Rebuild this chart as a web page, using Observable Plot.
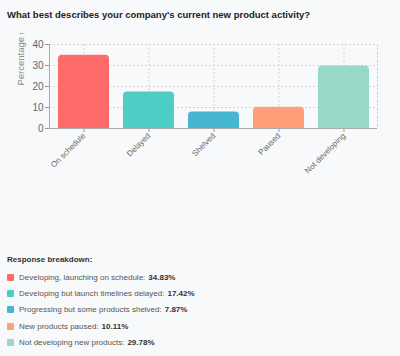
<!DOCTYPE html>
<html><head><meta charset="utf-8">
<script src="https://cdn.jsdelivr.net/npm/d3@7"></script>
<script src="https://cdn.jsdelivr.net/npm/@observablehq/plot@0.6"></script>
<style>
body{margin:0;background:#f8f9fa;font-family:"Liberation Sans",Arial,sans-serif;width:400px;height:356px;position:relative;overflow:hidden}
#title{position:absolute;left:7px;top:9px;font-size:9.5px;font-weight:bold;color:#222;white-space:nowrap}
#chart{position:absolute;left:0;top:33px}
#legend{position:absolute;left:7px;top:254px;font-size:8px;color:#555}
#legend .hdr{font-weight:bold;color:#333;height:12px;line-height:12px;margin-bottom:3px}
#legend .item{display:flex;align-items:center;height:16.4px}
#legend .sw{width:7px;height:7px;border-radius:1px;margin-right:5px}
#legend b{color:#333;margin-left:3px}
</style></head>
<body>
<div id="title">What best describes your company's current new product activity?</div>
<div id="chart"></div>
<div id="legend"></div>
<script>
const categories = ["On schedule","Delayed","Shelved","Paused","Not developing"];
const values = [34.83,17.42,7.87,10.11,29.78];
const descriptions = ["Developing, launching on schedule","Developing but launch timelines delayed","Progressing but some products shelved","New products paused","Not developing new products"];
const colors = ["#ff6b6b","#4ecdc4","#45b7d1","#ffa07a","#98d8c8"];
const yTicks = [0,10,20,30,40];
const yLabel = "Percentage (%)";

const data = categories.map((c,i)=>({category:c, value:values[i]}));

const chart = Plot.plot({
  width: 400, height: 200,
  marginTop: 11, marginLeft: 49, marginRight: 23, marginBottom: 105,
  style:{background:"transparent", fontFamily:"'Liberation Sans',Arial,sans-serif", fontSize:"9px", color:"#666", overflow:"hidden"},
  x:{domain:categories, paddingInner:0.22, paddingOuter:0.11, label:null},
  y:{domain:[0,40], label:null},
  color:{domain:categories, range:colors},
  marks:[
    Plot.gridY(yTicks, {stroke:"#d6d6d6", strokeOpacity:1, strokeDasharray:"2,2"}),
    Plot.gridX(categories, {stroke:"#d6d6d6", strokeOpacity:1, strokeDasharray:"2,2"}),
    Plot.frame({anchor:"right", stroke:"#d6d6d6", strokeDasharray:"2,2"}),
    Plot.barY(data, {x:"category", y:"value", fill:"category", rx:4, insetBottom:-6, clip:true}),
    Plot.axisY(yTicks, {tickSize:4, tickPadding:2, stroke:"#999", fill:"#666", fontSize:10, label:null}),
    Plot.axisX({tickRotate:-45, tickSize:4, tickPadding:2, stroke:"#999", fill:"#666", fontSize:8, label:null}),
    Plot.ruleY([0], {stroke:"#aaa"}),
    Plot.frame({anchor:"left", stroke:"#aaa"}),
    Plot.text([yLabel], {frameAnchor:"top-left", rotate:-90, textAnchor:"start", dx:-32, dy:41, fill:"#888", fontSize:9.5})
  ]
});
document.getElementById("chart").appendChild(chart);

const lg = document.getElementById("legend");
const hdr = document.createElement("div"); hdr.className="hdr"; hdr.textContent="Response breakdown:"; lg.appendChild(hdr);
descriptions.forEach((d,i)=>{
  const it=document.createElement("div"); it.className="item";
  const sw=document.createElement("span"); sw.className="sw"; sw.style.background=colors[i];
  const tx=document.createElement("span"); tx.textContent=d+":";
  const b=document.createElement("b"); b.textContent=values[i].toFixed(2)+"%";
  it.appendChild(sw); it.appendChild(tx); it.appendChild(b); lg.appendChild(it);
});
</script>
</body></html>
